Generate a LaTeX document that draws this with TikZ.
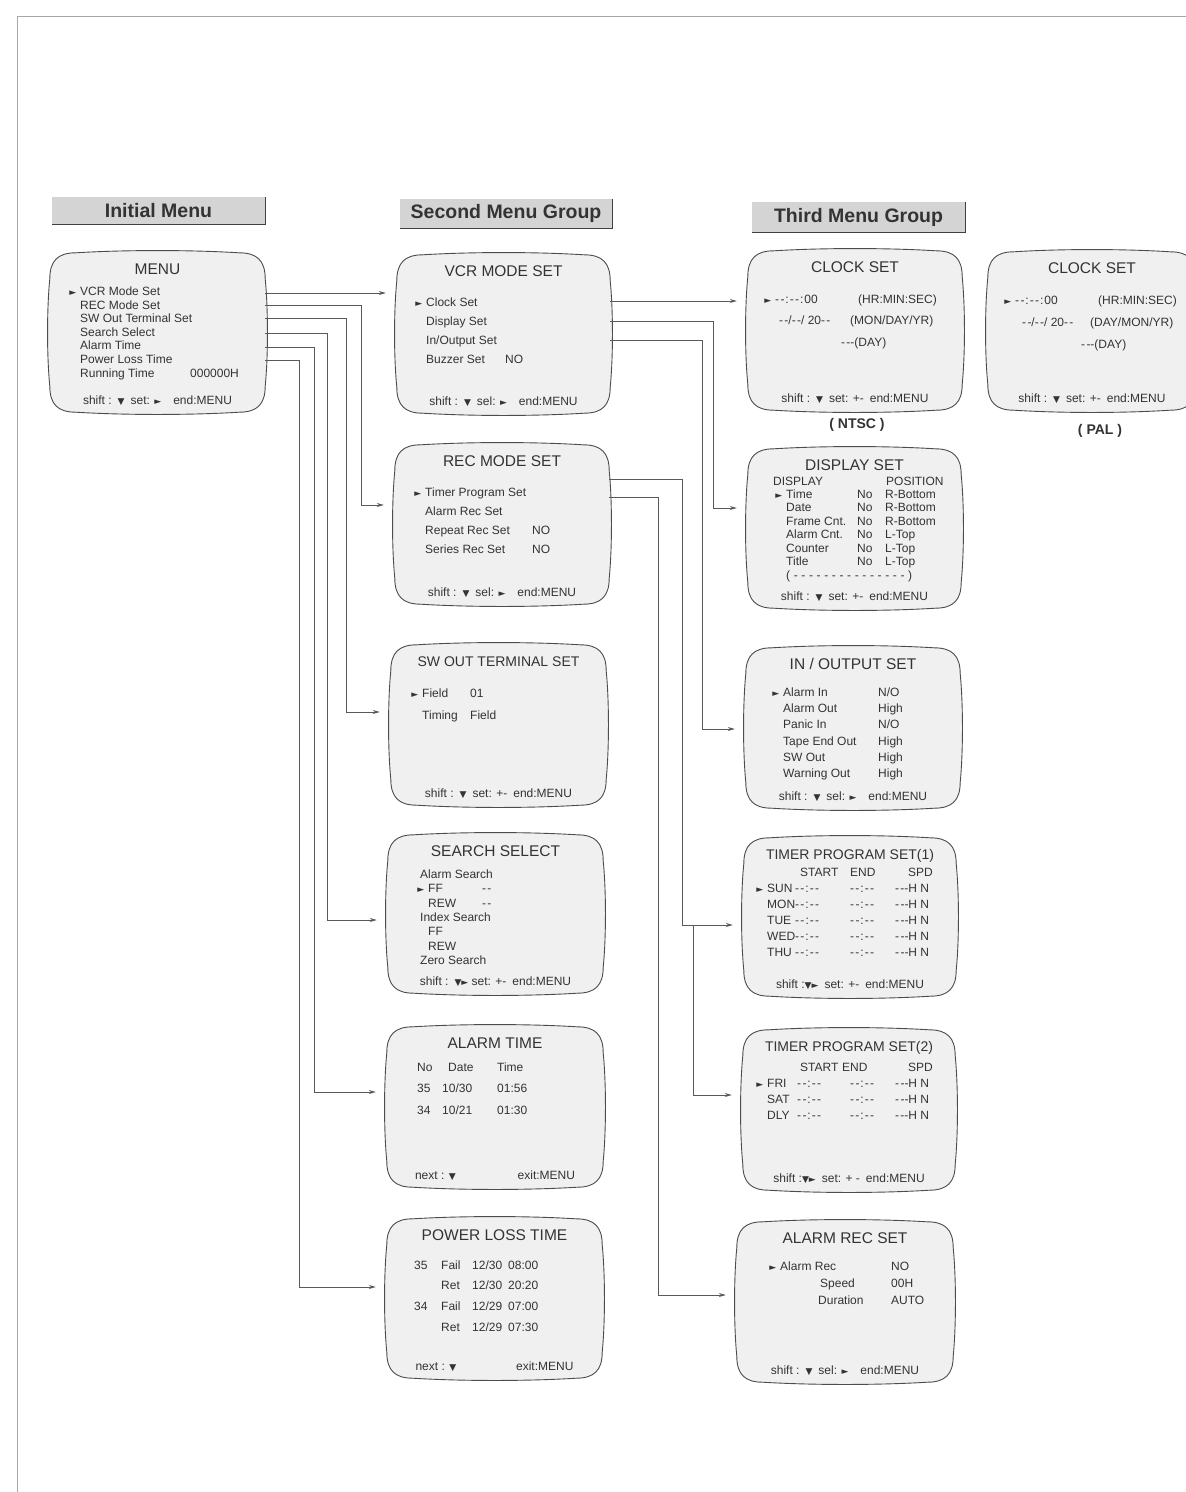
\documentclass[tikz,border=0pt]{standalone}
\usepackage{fontspec}
\setmainfont{Liberation Sans}[Ligatures=TeXOff]
\newfontfamily\symf{DejaVu Sans}
\usetikzlibrary{arrows.meta,calc,positioning}

% small helpers for the menu texts
\newcommand\cellw[2]{\makebox[#1][l]{#2}}
\newcommand\cur{\llap{{\symf\fontsize{9}{9}\selectfont ►}\hspace{4pt}}}
\newcommand\dn{{\symf\fontsize{9}{9}\selectfont ▼}}
\newcommand\rt{{\symf\fontsize{9}{9}\selectfont ►}}
\newcommand\dd{-\kern1.3pt-}
\newcommand\hm{\dd\kern1pt:\kern1pt\dd}

% TV screen outline round a named node
\newcommand\tvframe[1]{%
  \filldraw[crtline] let \p1=(#1.north west), \p2=(#1.south east) in
    (\x1,\y1-26pt) .. controls (\x1,\y1-8pt) and (\x1+8pt,\y1) .. (\x1+26pt,\y1)
    .. controls ({0.65*\x1+0.35*\x2},\y1+3pt) and ({0.35*\x1+0.65*\x2},\y1+3pt) .. (\x2-26pt,\y1)
    .. controls (\x2-8pt,\y1) and (\x2,\y1-8pt) .. (\x2,\y1-26pt)
    .. controls (\x2+3pt,{0.65*\y1+0.35*\y2}) and (\x2+3pt,{0.35*\y1+0.65*\y2}) .. (\x2,\y2+26pt)
    .. controls (\x2,\y2+8pt) and (\x2-8pt,\y2) .. (\x2-26pt,\y2)
    .. controls ({0.35*\x1+0.65*\x2},\y2-3pt) and ({0.65*\x1+0.35*\x2},\y2-3pt) .. (\x1+26pt,\y2)
    .. controls (\x1+8pt,\y2) and (\x1,\y2+8pt) .. (\x1,\y2+26pt)
    .. controls (\x1-3pt,{0.35*\y1+0.65*\y2}) and (\x1-3pt,{0.65*\y1+0.35*\y2}) .. cycle;}

% name, x1, y1, x2, y2, title, footer
\newcommand\tvbox[7]{%
  \node[screen, minimum width={#4-#2}, minimum height={#5-#3}] (#1) at ({(#2+#4)/2},{(#3+#5)/2}) {};
  \tvframe{#1}
  \node[ttl] (#1-t) at ({(#2+#4)/2},#3+21) {#6};
  \node[foot] (#1-f) at ({(#2+#4)/2},#5-7.5) {#7};}

\begin{document}
\begin{tikzpicture}[x=1pt,y=-1pt,
	screen/.style={rectangle,inner sep=0pt,draw=none},
	crtline/.style={draw=black!70,fill=black!6,line width=0.9pt},
	ttl/.style={anchor=base,inner sep=0pt,text=black!80,font=\fontsize{15.5}{18}\selectfont},
	foot/.style={anchor=base,inner sep=0pt,text=black!80,font=\fontsize{12}{14}\selectfont},
	body/.style={anchor=base west,inner sep=0pt,text=black!80,font=\fontsize{12}{#1}\selectfont},
	head/.style={fill=black!17,inner sep=0pt,text=black!80,font=\bfseries\fontsize{19.5}{22}\selectfont},
	edgeline/.style={draw=black!75,line width=1.3pt},
	modelabel/.style={inner sep=0pt,text=black!80,font=\bfseries\fontsize{14}{16}\selectfont},
	link/.style={draw=black!65,line width=0.8pt,-{Stealth[length=7pt,width=4pt]},shorten >=11pt}]
	\useasboundingbox (0,0) rectangle (1186,1492);
	\clip (0,0) rectangle (1186,1492);
	\fill[white] (0,0) rectangle (1186,1492);
	\draw[black!35,line width=0.8pt] (17,1492) -- (17,16) -- (1186,16);

	% group headers
	\node[head,minimum width=213pt,minimum height=27pt] (hinit) at (158.5,210.5) {Initial Menu\hspace{8pt}};
	\node[head,minimum width=212pt,minimum height=29pt] (hsecond) at (506,213.5) {Second Menu Group\hspace{6pt}};
	\node[head,minimum width=213pt,minimum height=30pt] (hthird) at (858.5,217) {Third Menu Group\hspace{30pt}};
	\foreach \h in {hinit,hsecond,hthird}
		\draw[edgeline] (\h.north east) -- (\h.south east) -- (\h.south west);

	% initial menu
	\tvbox{menu}{50}{253}{265}{412}{MENU}{shift :\enspace\dn\enspace set: \rt\quad end:MENU}
	\node[body=13.6] (menu-b) at (80,295.5) {\begin{tabular}[t]{@{}l@{}}
		\cur VCR Mode Set\\ REC Mode Set\\ SW Out Terminal Set\\ Search Select\\
		Alarm Time\\ Power Loss Time\\ \cellw{110pt}{Running Time}000000H\end{tabular}};

	% second menu group
	\tvbox{vcr}{397}{255}{610}{413}{VCR MODE SET}{shift :\enspace\dn\enspace sel: \rt\quad end:MENU}
	\node[body=19] (vcr-b) at (426,306.5) {\begin{tabular}[t]{@{}l@{}}
		\cur Clock Set\\ Display Set\\ In/Output Set\\ \cellw{79pt}{Buzzer Set}NO\end{tabular}};

	\tvbox{rec}{395}{445}{609}{604}{REC MODE SET}{shift :\enspace\dn\enspace sel: \rt\quad end:MENU}
	\node[body=19] (rec-b) at (425,496.5) {\begin{tabular}[t]{@{}l@{}}
		\cur Timer Program Set\\ Alarm Rec Set\\ \cellw{107pt}{Repeat Rec Set}NO\\
		\cellw{107pt}{Series Rec Set}NO\end{tabular}};

	\tvbox{sw}{391}{645}{606}{805}{\fontsize{14}{16}\selectfont SW OUT TERMINAL SET}{shift :\enspace\dn\enspace set: +-\enspace end:MENU}
	\node[body=22] (sw-b) at (422,697.5) {\begin{tabular}[t]{@{}l@{}}
		\cur\cellw{48pt}{Field}01\\ \cellw{48pt}{Timing}Field\end{tabular}};

	\tvbox{search}{388}{835}{603}{993}{SEARCH SELECT}{shift :\enspace\dn\rt\ set: +-\enspace end:MENU}
	\node[body=14.3] (search-b) at (420,878.5) {\begin{tabular}[t]{@{}l@{}}
		Alarm Search\\ \hspace{8pt}\cur\cellw{54pt}{FF}\dd\\ \hspace{8pt}\cellw{54pt}{REW}\dd\\
		Index Search\\ \hspace{8pt}FF\\ \hspace{8pt}REW\\ Zero Search\end{tabular}};

	\tvbox{atime}{387}{1027}{603}{1187}{ALARM TIME}{\makebox[160pt]{next : \dn\hfill exit:MENU}}
	\node[body=21.5] (atime-b) at (417,1071) {\begin{tabular}[t]{@{}l@{}}
		\cellw{31pt}{No}\cellw{49pt}{Date}Time\\
		\cellw{25pt}{35}\cellw{55pt}{10/30}01:56\\
		\cellw{25pt}{34}\cellw{55pt}{10/21}01:30\end{tabular}};

	\tvbox{ploss}{387}{1219}{602}{1378}{POWER LOSS TIME}{\makebox[158pt]{next : \dn\hfill exit:MENU}}
	\node[body=20.7] (ploss-b) at (414,1269) {\begin{tabular}[t]{@{}l@{}}
		\cellw{27pt}{35}\cellw{31pt}{Fail}\cellw{36pt}{12/30}08:00\\
		\cellw{27pt}{}\cellw{31pt}{Ret}\cellw{36pt}{12/30}20:20\\
		\cellw{27pt}{34}\cellw{31pt}{Fail}\cellw{36pt}{12/29}07:00\\
		\cellw{27pt}{}\cellw{31pt}{Ret}\cellw{36pt}{12/29}07:30\end{tabular}};

	% third menu group
	\tvbox{clkn}{748}{251}{962}{410}{CLOCK SET}{shift :\enspace\dn\enspace set: +-\enspace end:MENU}
	\node[body=21.7] (clkn-b) at (775,303) {\begin{tabular}[t]{@{}l@{}}
		\cur\cellw{83pt}{\hm\kern1pt:\kern1pt00}(HR:MIN:SEC)\\
		\hspace{4pt}\cellw{71pt}{\dd/\dd/ 20\dd}(MON/DAY/YR)\\
		\hspace{66pt}\dd-(DAY)\end{tabular}};
	\node[modelabel] (ntsc) at (857,425) {( NTSC )};

	\tvbox{clkp}{988}{252}{1196}{410}{CLOCK SET}{shift :\enspace\dn\enspace set: +-\enspace end:MENU}
	\node[body=22] (clkp-b) at (1015,304) {\begin{tabular}[t]{@{}l@{}}
		\cur\cellw{83pt}{\hm\kern1pt:\kern1pt00}(HR:MIN:SEC)\\
		\hspace{7pt}\cellw{68pt}{\dd/\dd/ 20\dd}(DAY/MON/YR)\\
		\hspace{66pt}\dd-(DAY)\end{tabular}};
	\node[modelabel] (pal) at (1100,431) {( PAL )};

	\tvbox{disp}{748}{449}{961}{608}{DISPLAY SET}{shift :\enspace\dn\enspace set: +-\enspace end:MENU}
	\node[body=13.45] (disp-b) at (773,485) {\begin{tabular}[t]{@{}l@{}}
		\cellw{113pt}{DISPLAY}POSITION\\
		\hspace{13pt}\cur\cellw{71pt}{Time}\cellw{28pt}{No}R-Bottom\\
		\hspace{13pt}\cellw{71pt}{Date}\cellw{28pt}{No}R-Bottom\\
		\hspace{13pt}\cellw{71pt}{Frame Cnt.}\cellw{28pt}{No}R-Bottom\\
		\hspace{13pt}\cellw{71pt}{Alarm Cnt.}\cellw{28pt}{No}L-Top\\
		\hspace{13pt}\cellw{71pt}{Counter}\cellw{28pt}{No}L-Top\\
		\hspace{13pt}\cellw{71pt}{Title}\cellw{28pt}{No}L-Top\\
		\hspace{13pt}\makebox[126pt][s]{( - - - - - - - - - - - - - - - )}\end{tabular}};

	\tvbox{io}{746}{648}{960}{808}{IN / OUTPUT SET}{shift :\enspace\dn\enspace sel: \rt\quad end:MENU}
	\node[body=16.2] (io-b) at (783,696.5) {\begin{tabular}[t]{@{}l@{}}
		\cur\cellw{95pt}{Alarm In}N/O\\ \cellw{95pt}{Alarm Out}High\\ \cellw{95pt}{Panic In}N/O\\
		\cellw{95pt}{Tape End Out}High\\ \cellw{95pt}{SW Out}High\\ \cellw{95pt}{Warning Out}High\end{tabular}};

	\tvbox{tim1}{744}{838}{956}{996}{\fontsize{14}{16}\selectfont TIMER PROGRAM SET(1)}{shift :\dn\rt\enspace set: +-\enspace end:MENU}
	\node[body=16] (tim1-b) at (767,876) {\begin{tabular}[t]{@{}l@{}}
		\hspace{33pt}\cellw{50pt}{START}\cellw{58pt}{END}SPD\\
		\cur\cellw{28pt}{SUN}\cellw{55pt}{\hm}\cellw{45pt}{\hm}\dd-H N\\
		\cellw{28pt}{MON}\cellw{55pt}{\hm}\cellw{45pt}{\hm}\dd-H N\\
		\cellw{28pt}{TUE}\cellw{55pt}{\hm}\cellw{45pt}{\hm}\dd-H N\\
		\cellw{28pt}{WED}\cellw{55pt}{\hm}\cellw{45pt}{\hm}\dd-H N\\
		\cellw{28pt}{THU}\cellw{55pt}{\hm}\cellw{45pt}{\hm}\dd-H N\end{tabular}};

	\tvbox{tim2}{743}{1030}{955}{1190}{\fontsize{14}{16}\selectfont TIMER PROGRAM SET(2)}{shift :\dn\rt\enspace set: + -\enspace end:MENU}
	\node[body=16] (tim2-b) at (767,1071) {\begin{tabular}[t]{@{}l@{}}
		\hspace{33pt}\cellw{42pt}{START}\cellw{66pt}{END}SPD\\
		\cur\cellw{30pt}{FRI}\cellw{53pt}{\hm}\cellw{45pt}{\hm}\dd-H N\\
		\cellw{30pt}{SAT}\cellw{53pt}{\hm}\cellw{45pt}{\hm}\dd-H N\\
		\cellw{30pt}{DLY}\cellw{53pt}{\hm}\cellw{45pt}{\hm}\dd-H N\end{tabular}};

	\tvbox{arec}{737}{1222}{953}{1382}{ALARM REC SET}{shift :\enspace\dn\enspace sel: \rt\quad end:MENU}
	\node[body=17] (arec-b) at (780,1270) {\begin{tabular}[t]{@{}l@{}}
		\cur\cellw{111pt}{Alarm Rec}NO\\ \hspace{40pt}\cellw{71pt}{Speed}00H\\
		\hspace{38pt}\cellw{73pt}{Duration}AUTO\end{tabular}};

	% links from the initial menu
	\draw[link] (menu.east |- 0,293) -- (vcr.west |- 0,293);
	\draw[link] (menu.east |- 0,305) -| (361,505) -- (rec.west |- 0,505);
	\draw[link] (menu.east |- 0,318) -| (346,712) -- (sw.west |- 0,712);
	\draw[link] (menu.east |- 0,333) -| (327,920) -- (search.west |- 0,920);
	\draw[link] (menu.east |- 0,347) -| (314,1092) -- (atime.west |- 0,1092);
	\draw[link] (menu.east |- 0,360) -| (299,1287) -- (ploss.west |- 0,1287);

	% links from the second group
	\draw[link] (vcr.east |- 0,301) -- (clkn.west |- 0,301);
	\draw[link] (vcr.east |- 0,321) -| (713,508) -- (disp.west |- 0,508);
	\draw[link] (vcr.east |- 0,340) -| (702,729) -- (io.west |- 0,729);
	\draw[link] (rec.east |- 0,479) -| (682,925) -- (tim1.west |- 0,925);
	\coordinate (tsplit) at (693,925);
	\draw[link] (tsplit) |- (tim2.west |- 0,1095);
	\draw[link] (rec.east |- 0,497) -| (658,1295) -- (arec.west |- 0,1295);
\end{tikzpicture}
\end{document}
